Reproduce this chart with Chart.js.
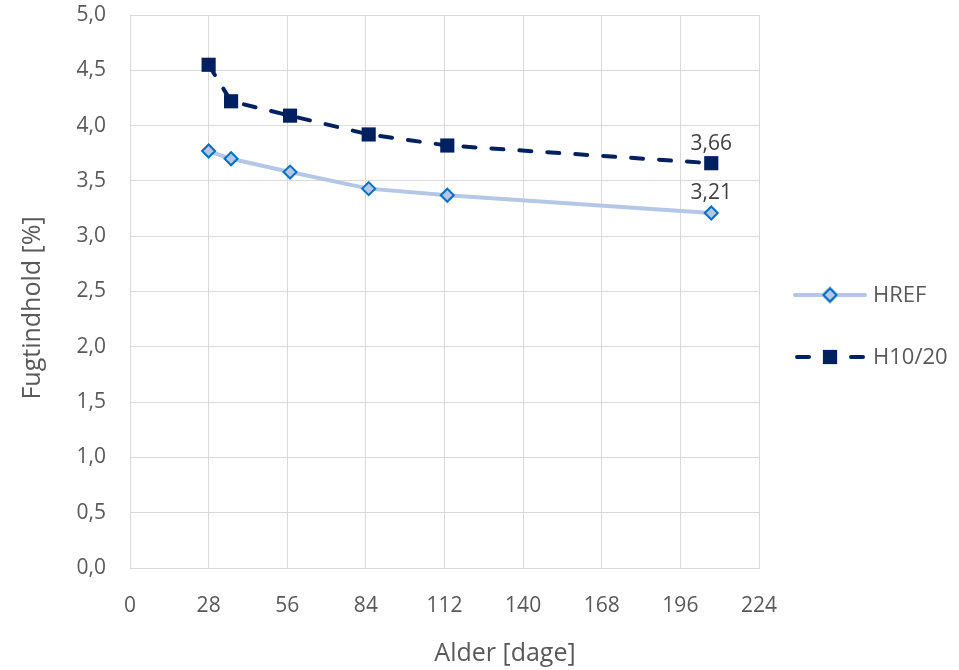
<!DOCTYPE html>
<html>
<head>
<meta charset="utf-8">
<script src="https://cdn.jsdelivr.net/npm/chart.js@4/dist/chart.umd.min.js"></script>
<style>
  html, body { margin: 0; padding: 0; background: #fff; }
  #wrap { width: 959px; height: 670px; }
</style>
</head>
<body>
<div id="wrap"><canvas id="myChart" width="959" height="670"></canvas></div>
<script>
// Data
const days = [28, 36, 57, 85, 113, 207];
const hrefValues = [3.77, 3.70, 3.58, 3.43, 3.37, 3.21];
const h1020Values = [4.55, 4.22, 4.09, 3.92, 3.82, 3.66];
const seriesNames = ["HREF", "H10/20"];
const xTickValues = [0, 28, 56, 84, 112, 140, 168, 196, 224];
const yTickValues = [0, 0.5, 1, 1.5, 2, 2.5, 3, 3.5, 4, 4.5, 5];
const xTitle = "Alder [dage]";
const yTitle = "Fugtindhold [%]";

const textColor = "#595959";
const fontFamily = "'Open Sans', sans-serif";

const fmt = v => v.toFixed(1).replace(".", ",");
const fmt2 = v => v.toFixed(2).replace(".", ",");

const toPoints = vals => days.map((d, i) => ({ x: d, y: vals[i] }));

// custom stuff: axis titles, end labels and a line+marker legend like Excel
const extras = {
  id: "extras",
  afterDatasetsDraw(chart) {
    const ctx = chart.ctx;
    ctx.save();

    // labels on the last points
    ctx.fillStyle = "#404040";
    ctx.font = "21px " + fontFamily;
    ctx.textAlign = "center";
    ctx.textBaseline = "bottom";
    chart.data.datasets.forEach((ds, i) => {
      const meta = chart.getDatasetMeta(i);
      const last = meta.data[meta.data.length - 1];
      const v = ds.data[ds.data.length - 1].y;
      ctx.fillText(fmt2(v), last.x, last.y - 9);
    });

    // axis titles
    ctx.fillStyle = textColor;
    ctx.font = "25px " + fontFamily;
    ctx.textBaseline = "middle";
    ctx.fillText(xTitle, 505, 654);
    ctx.save();
    ctx.translate(33, 308);
    ctx.rotate(-Math.PI / 2);
    ctx.fillText(yTitle, 0, 0);
    ctx.restore();

    // legend
    const lx = 795, lw = 70;
    const rows = [295, 357];
    chart.data.datasets.forEach((ds, i) => {
      const y = rows[i];
      ctx.strokeStyle = ds.borderColor;
      ctx.lineWidth = ds.borderWidth;
      ctx.lineCap = "round";
      ctx.beginPath();
      if (ds.borderDash && ds.borderDash.length) {
        ctx.moveTo(lx + 2, y); ctx.lineTo(lx + 14, y);
        ctx.moveTo(lx + lw - 14, y); ctx.lineTo(lx + lw - 2, y);
      } else {
        ctx.moveTo(lx, y); ctx.lineTo(lx + lw, y);
      }
      ctx.stroke();
      Chart.helpers.drawPoint(ctx, {
        pointStyle: ds.pointStyle,
        radius: ds.pointRadius,
        borderWidth: ds.pointBorderWidth
      }, lx + lw / 2, y);
      ctx.fillStyle = ds.pointBackgroundColor;
      ctx.fill();
      if (ds.pointBorderWidth) {
        ctx.strokeStyle = ds.pointBorderColor;
        ctx.lineWidth = ds.pointBorderWidth;
        ctx.stroke();
      }
      ctx.fillStyle = textColor;
      ctx.font = "22px " + fontFamily;
      ctx.textAlign = "left";
      ctx.textBaseline = "middle";
      ctx.fillText(ds.label, lx + lw + 8, y + 1);
    });
    ctx.restore();
  }
};

const canvas = document.getElementById("myChart");
const ctx = canvas.getContext("2d");

const myChart = new Chart(ctx, {
  type: "line",
  data: {
    datasets: [
      {
        label: seriesNames[0],
        data: toPoints(hrefValues),
        borderColor: "#b4c7e7",
        borderWidth: 4,
        pointStyle: "rectRot",
        pointRadius: 6.5,
        pointBackgroundColor: "#b4c7e7",
        pointBorderColor: "#0070c0",
        pointBorderWidth: 2,
        tension: 0
      },
      {
        label: seriesNames[1],
        data: toPoints(h1020Values),
        borderColor: "#002060",
        borderWidth: 4,
        borderDash: [12, 16],
        borderCapStyle: "round",
        pointStyle: "rect",
        pointRadius: 10,
        pointBackgroundColor: "#002060",
        pointBorderColor: "#002060",
        pointBorderWidth: 0,
        tension: 0
      }
    ]
  },
  options: {
    responsive: false,
    animation: false,
    layout: { padding: { top: 0, right: 200, left: 0, bottom: 0 } },
    plugins: {
      legend: { display: false },
      tooltip: { enabled: false }
    },
    scales: {
      x: {
        type: "linear",
        min: 0,
        max: 224,
        afterBuildTicks: s => { s.ticks = xTickValues.map(v => ({ value: v })); },
        afterFit: s => { s.height = 102; },
        grid: { color: "#d9d9d9", drawTicks: false },
        border: { color: "#d9d9d9" },
        ticks: {
          padding: 25,
          color: textColor,
          font: { family: fontFamily, size: 21 },
          maxRotation: 0
        }
      },
      y: {
        min: 0,
        max: 5,
        afterBuildTicks: s => { s.ticks = yTickValues.map(v => ({ value: v })); },
        afterFit: s => { s.width = 130; s.paddingTop = 15; },
        grid: { color: "#d9d9d9", drawTicks: false },
        border: { color: "#d9d9d9" },
        ticks: {
          padding: 24,
          color: textColor,
          font: { family: fontFamily, size: 21 },
          callback: v => fmt(v)
        }
      }
    }
  },
  plugins: [extras]
});
</script>
</body>
</html>
